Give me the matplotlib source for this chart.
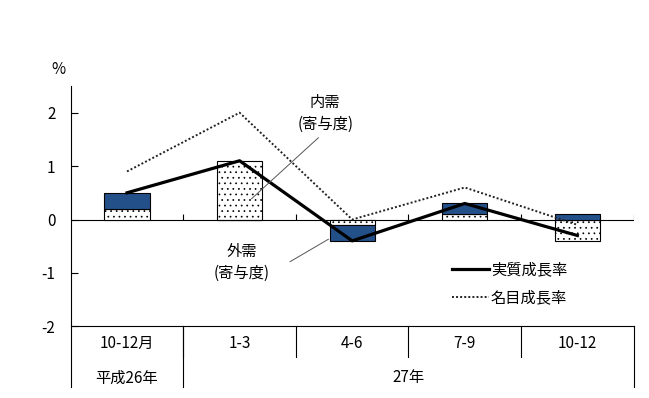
import numpy as np
import matplotlib.pyplot as plt
from matplotlib.transforms import blended_transform_factory

plt.rcParams['font.family'] = ['Noto Sans CJK JP', 'DejaVu Sans']
plt.rcParams['axes.unicode_minus'] = False
plt.rcParams['hatch.linewidth'] = 0.5

# 四半期
quarters = ['10-12月', '1-3', '4-6', '7-9', '10-12']
years = ['平成26年', '27年']
# 寄与度と成長率 (%)
domestic = [0.2, 1.1, -0.1, 0.1, -0.4]   # 内需(寄与度)
external = [0.3, 0.0, -0.3, 0.2, 0.1]    # 外需(寄与度)
real_growth = [0.5, 1.1, -0.4, 0.3, -0.3]     # 実質成長率
nominal_growth = [0.9, 2.0, 0.0, 0.6, -0.1]   # 名目成長率
yticks = [-2, -1, 0, 1, 2]

FS = 11
W, H = 649, 398
fig = plt.figure(figsize=(W / 100, H / 100), dpi=100)
ax = fig.add_axes([70.7 / W, (H - 326.3) / H, 563 / W, 240.3 / H])

x = np.arange(len(quarters))
dom = np.array(domestic)
ext = np.array(external)
# stack on the same side as domestic, otherwise start from zero
ext_bottom = np.where(np.sign(ext) == np.sign(dom), dom, 0)

ax.axhline(0, color='black', lw=0.8, zorder=1.5)
ax.bar(x, dom, width=0.4, color='white', edgecolor='black', hatch='...',
       lw=0.8, zorder=2)
ax.bar(x, ext, width=0.4, bottom=ext_bottom, color='#245089',
       edgecolor='black', lw=0.8, zorder=2)

ax.plot(x, nominal_growth, color='#222222', lw=1.4, ls=(0, (1, 1.1)),
        label='名目成長率', zorder=3)
ax.plot(x, real_growth, color='black', lw=2.3, label='実質成長率', zorder=4)

# small ticks on the zero line at category boundaries
ax.vlines(x + 0.5, 0, 0.11, color='black', lw=0.8)

# annotations
ax.text(1.76, 1.99, '内需\n(寄与度)', ha='center', va='center',
        fontsize=FS, linespacing=1.35)
ax.plot([1.107, 1.699], [0.39, 1.53], color='#555555', lw=0.7, zorder=5)
ax.text(1.02, -0.80, '外需\n(寄与度)', ha='center', va='center',
        fontsize=FS, linespacing=1.35)
ax.plot([1.448, 1.788], [-0.79, -0.37], color='#555555', lw=0.7, zorder=5)

# legend
handles, labels = ax.get_legend_handles_labels()
ax.legend(handles[::-1], labels[::-1], loc='upper left',
          bbox_to_anchor=(452 / W, 1 - 261 / H), bbox_transform=fig.transFigure,
          frameon=False, handlelength=2.4, handletextpad=0.15,
          labelspacing=0.75, borderpad=0, borderaxespad=0, fontsize=FS)

# axes styling
ax.set_xlim(-0.5, len(quarters) - 0.5)
ax.set_ylim(-2, 2.5)
ax.set_yticks(yticks)
ax.set_xticks([])
ax.tick_params(axis='y', direction='in', length=5, width=0.8, pad=11,
               labelsize=FS)
for s in ['top', 'right']:
    ax.spines[s].set_visible(False)
for s in ['left', 'bottom']:
    ax.spines[s].set_linewidth(0.8)

fig.text(58 / W, 1 - 70 / H, '%', ha='center', va='center', fontsize=FS)

# category table below the plot
tr = blended_transform_factory(ax.transData, ax.transAxes)
for i, q in enumerate(quarters):
    ax.text(i, -0.0716, q, ha='center', va='center', fontsize=FS,
            transform=tr)
ax.text(0, -0.215, years[0], ha='center', va='center', fontsize=FS,
        transform=tr)
ax.text((0.5 + len(quarters) - 0.5) / 2, -0.215, years[1], ha='center',
        va='center', fontsize=FS, transform=tr)
for b in x[1:] - 0.5:
    ax.plot([b, b], [0, -0.1265], color='black', lw=0.8, transform=tr,
            clip_on=False)
for b in [-0.5, 0.5, len(quarters) - 0.5]:
    ax.plot([b, b], [0, -0.254], color='black', lw=0.8, transform=tr,
            clip_on=False)

ax.set_xlim(-0.5, len(quarters) - 0.5)
ax.set_ylim(-2, 2.5)

fig.savefig('out.png', dpi=100)
